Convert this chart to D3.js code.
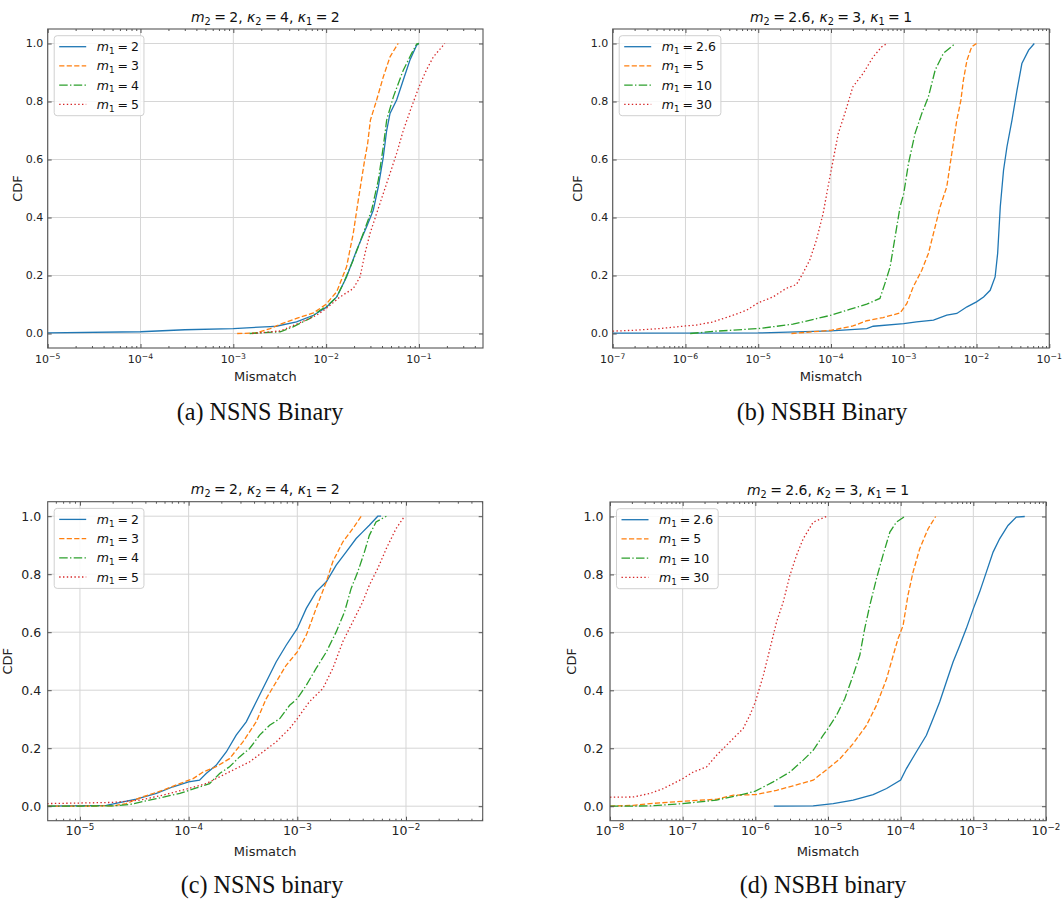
<!DOCTYPE html>
<html><head><meta charset="utf-8">
<script src="https://cdn.jsdelivr.net/npm/d3@7"></script>
<style>
body{margin:0;background:#fff}
svg{display:block}
text{white-space:pre}
</style>
</head><body>
<svg id="chart" width="1063" height="901"></svg>
<script>
// ---------------- DATA ----------------
// Panel (a) NSNS Binary: [mismatch, CDF]
const aM1_2 = [[1e-5,0.002],[1e-4,0.006],[3e-4,0.013],[1e-3,0.017],[2.5e-3,0.024],[2.9e-3,0.025],[4.8e-3,0.04],[7.3e-3,0.063],[1e-2,0.09],[1.3e-2,0.126],[1.66e-2,0.195],[2.13e-2,0.287],[2.73e-2,0.368],[3.22e-2,0.425],[3.65e-2,0.506],[4.13e-2,0.609],[4.49e-2,0.70],[4.88e-2,0.759],[5.75e-2,0.805],[6.78e-2,0.874],[8.0e-2,0.943],[9.44e-2,0.994],[0.1,1.0]];
const aM1_3 = [[1.1e-3,0],[1.78e-3,0.002],[2.5e-3,0.017],[3.2e-3,0.032],[4.8e-3,0.052],[7.3e-3,0.071],[1e-2,0.101],[1.3e-2,0.144],[1.66e-2,0.23],[1.96e-2,0.345],[2.22e-2,0.46],[2.6e-2,0.598],[2.8e-2,0.655],[3.0e-2,0.736],[3.5e-2,0.805],[4.13e-2,0.885],[4.88e-2,0.954],[5.9e-2,0.998],[6.0e-2,1.0]];
const aM1_4 = [[1.5e-3,0],[3.2e-3,0.006],[4.4e-3,0.023],[6.7e-3,0.052],[8.6e-3,0.08],[1e-2,0.092],[1.3e-2,0.126],[1.53e-2,0.172],[1.96e-2,0.253],[2.51e-2,0.345],[3.09e-2,0.425],[3.65e-2,0.529],[4.13e-2,0.644],[4.49e-2,0.736],[5.3e-2,0.816],[6.78e-2,0.908],[8.34e-2,0.966],[9.44e-2,0.998],[0.1,1.0]];
const aM1_5 = [[1.6e-3,0],[3.2e-3,0.009],[4.8e-3,0.032],[7.9e-3,0.063],[1e-2,0.086],[1.41e-2,0.126],[1.96e-2,0.155],[2.32e-2,0.195],[2.62e-2,0.276],[2.97e-2,0.345],[3.5e-2,0.414],[4.13e-2,0.483],[4.88e-2,0.552],[5.75e-2,0.621],[6.78e-2,0.70],[8.34e-2,0.782],[0.1,0.85],[0.12,0.908],[0.143,0.954],[0.19,1.0]];

// Panel (b) NSBH Binary
const bM1_26 = [[1e-7,0.001],[1e-5,0.002],[1e-4,0.009],[3.1e-4,0.017],[3.8e-4,0.025],[1e-3,0.034],[1.5e-3,0.04],[2.56e-3,0.046],[3.9e-3,0.063],[5.36e-3,0.069],[7.4e-3,0.092],[1e-2,0.109],[1.25e-2,0.126],[1.54e-2,0.149],[1.8e-2,0.195],[1.95e-2,0.276],[2.12e-2,0.437],[2.35e-2,0.563],[2.62e-2,0.644],[3.07e-2,0.736],[3.6e-2,0.839],[4.2e-2,0.931],[5.2e-2,0.977],[6.22e-2,1.0]];
const bM1_5 = [[2.86e-5,0],[1e-4,0.011],[2.0e-4,0.026],[3.1e-4,0.044],[5.2e-4,0.055],[8.9e-4,0.071],[1.1e-3,0.103],[1.35e-3,0.161],[1.77e-3,0.218],[2.18e-3,0.276],[2.7e-3,0.368],[3.16e-3,0.437],[3.9e-3,0.506],[4.57e-3,0.621],[5.36e-3,0.736],[6.1e-3,0.805],[6.6e-3,0.874],[7.4e-3,0.943],[8.6e-3,0.989],[1e-2,1.0]];
const bM1_10 = [[1.16e-6,0],[2.65e-6,0.008],[1e-5,0.017],[3e-5,0.032],[1e-4,0.063],[1.8e-4,0.083],[3.1e-4,0.101],[4.7e-4,0.121],[5.5e-4,0.172],[6.5e-4,0.23],[7.6e-4,0.333],[8.9e-4,0.437],[1e-3,0.483],[1.16e-3,0.586],[1.43e-3,0.69],[1.77e-3,0.759],[2.18e-3,0.816],[2.7e-3,0.908],[3.5e-3,0.966],[5.1e-3,1.0]];
const bM1_30 = [[1e-7,0.008],[1.88e-7,0.011],[4.4e-7,0.017],[1e-6,0.026],[1.4e-6,0.029],[2.4e-6,0.04],[4.5e-6,0.063],[6.9e-6,0.08],[1e-5,0.106],[1.6e-5,0.126],[2.4e-5,0.155],[3.35e-5,0.169],[4.1e-5,0.207],[5.1e-5,0.253],[6.3e-5,0.322],[7.8e-5,0.414],[9.1e-5,0.506],[1.07e-4,0.598],[1.26e-4,0.69],[1.55e-4,0.759],[2.0e-4,0.851],[2.77e-4,0.897],[3.8e-4,0.954],[5.0e-4,0.989],[5.9e-4,1.0]];

// Panel (c) NSNS binary
const cM1_2 = [[5e-6,0],[1.75e-5,0.003],[2.49e-5,0.015],[3.3e-5,0.024],[5.05e-5,0.044],[7.2e-5,0.067],[1e-4,0.084],[1.26e-4,0.09],[1.45e-4,0.113],[1.79e-4,0.141],[2.22e-4,0.187],[2.74e-4,0.245],[3.39e-4,0.291],[4.19e-4,0.36],[5.18e-4,0.429],[6.4e-4,0.498],[7.9e-4,0.555],[1e-3,0.613],[1.21e-3,0.682],[1.49e-3,0.739],[1.85e-3,0.774],[2.28e-3,0.831],[2.82e-3,0.877],[3.48e-3,0.923],[4.0e-3,0.946],[4.6e-3,0.969],[5.5e-3,1.0],[5.9e-3,1.0]];
const cM1_3 = [[5e-6,0],[2e-5,0.001],[2.67e-5,0.009],[3.55e-5,0.029],[5.8e-5,0.055],[8.3e-5,0.078],[1.1e-4,0.095],[1.36e-4,0.118],[1.79e-4,0.136],[2.38e-4,0.164],[3.16e-4,0.222],[4.19e-4,0.291],[5.18e-4,0.371],[6.4e-4,0.429],[7.9e-4,0.486],[1e-3,0.532],[1.21e-3,0.59],[1.49e-3,0.682],[1.85e-3,0.774],[2.12e-3,0.843],[2.62e-3,0.911],[3.24e-3,0.957],[3.87e-3,1.0]];
const cM1_4 = [[5e-6,0],[2e-5,0.001],[2.87e-5,0.006],[5.05e-5,0.026],[8.3e-5,0.044],[1.18e-4,0.063],[1.56e-4,0.078],[1.93e-4,0.113],[2.38e-4,0.136],[2.94e-4,0.17],[3.64e-4,0.199],[4.5e-4,0.245],[5.56e-4,0.279],[6.9e-4,0.302],[8.5e-4,0.348],[1e-3,0.371],[1.21e-3,0.417],[1.49e-3,0.475],[1.85e-3,0.532],[2.28e-3,0.601],[2.72e-3,0.67],[3.13e-3,0.751],[3.6e-3,0.808],[4.15e-3,0.877],[4.6e-3,0.934],[5.3e-3,0.98],[6.6e-3,1.0]];
const cM1_5 = [[5e-6,0.009],[2e-5,0.013],[3.55e-5,0.021],[5.8e-5,0.038],[1e-4,0.061],[1.45e-4,0.078],[2.07e-4,0.107],[2.74e-4,0.13],[3.64e-4,0.153],[4.82e-4,0.187],[6.4e-4,0.222],[8.5e-4,0.268],[1e-3,0.302],[1.29e-3,0.36],[1.72e-3,0.406],[2.12e-3,0.475],[2.62e-3,0.567],[3.24e-3,0.636],[4.0e-3,0.705],[4.6e-3,0.762],[5.5e-3,0.82],[6.6e-3,0.889],[8.1e-3,0.957],[9.7e-3,1.0]];

// Panel (d) NSBH binary
const dM1_26 = [[1.8e-6,0],[6.25e-6,0.001],[1.18e-5,0.009],[2.22e-5,0.021],[4.18e-5,0.04],[6.4e-5,0.061],[1e-4,0.09],[1.2e-4,0.13],[1.64e-4,0.187],[2.26e-4,0.245],[2.79e-4,0.302],[3.44e-4,0.36],[4.25e-4,0.429],[5.26e-4,0.498],[6.5e-4,0.555],[8.0e-4,0.613],[1e-3,0.682],[1.22e-3,0.739],[1.51e-3,0.808],[1.87e-3,0.877],[2.3e-3,0.923],[3.0e-3,0.969],[3.9e-3,0.998],[5.1e-3,1.0]];
const dM1_5 = [[1e-8,0],[2.1e-8,0.003],[3.56e-8,0.009],[1e-7,0.017],[2.93e-7,0.024],[5e-7,0.038],[1e-6,0.04],[1.96e-6,0.055],[3.3e-6,0.07],[6.25e-6,0.09],[1e-5,0.13],[1.46e-5,0.164],[2.22e-5,0.216],[3.38e-5,0.279],[4.64e-5,0.348],[6.4e-5,0.44],[7.9e-5,0.521],[9.2e-5,0.578],[1.08e-4,0.624],[1.26e-4,0.728],[1.48e-4,0.808],[1.83e-4,0.889],[2.38e-4,0.957],[3.03e-4,1.0]];
const dM1_10 = [[1e-8,0],[3.56e-8,0.001],[1e-7,0.009],[2.93e-7,0.021],[6.1e-7,0.038],[1e-6,0.052],[1.76e-6,0.084],[2.99e-6,0.118],[4.56e-6,0.159],[6.25e-6,0.193],[8.6e-6,0.245],[1e-5,0.268],[1.31e-5,0.314],[1.7e-5,0.371],[2.22e-5,0.452],[2.74e-5,0.521],[3.2e-5,0.613],[3.76e-5,0.693],[4.64e-5,0.785],[5.7e-5,0.866],[7.1e-5,0.946],[8.7e-5,0.98],[1.14e-4,1.0]];
const dM1_30 = [[1e-8,0.031],[2.1e-8,0.032],[3.56e-8,0.044],[5.4e-8,0.061],[7.4e-8,0.078],[1e-7,0.095],[1.4e-7,0.118],[2.14e-7,0.136],[2.93e-7,0.176],[4.0e-7,0.21],[5.5e-7,0.245],[6.8e-7,0.268],[8.4e-7,0.314],[1e-6,0.36],[1.29e-6,0.452],[1.59e-6,0.544],[1.96e-6,0.636],[2.42e-6,0.705],[2.99e-6,0.797],[3.69e-6,0.866],[4.56e-6,0.923],[6.25e-6,0.98],[9.5e-6,1.0]];

// Text
const titlesNSNS = "m_2 = 2, κ_2 = 4, κ_1 = 2";
const titlesNSBH = "m_2 = 2.6, κ_2 = 3, κ_1 = 1";
const legendNSNS = ["m_1 = 2","m_1 = 3","m_1 = 4","m_1 = 5"];
const legendNSBH = ["m_1 = 2.6","m_1 = 5","m_1 = 10","m_1 = 30"];
const captions = ["(a) NSNS Binary","(b) NSBH Binary","(c) NSNS binary","(d) NSBH binary"];
const yTicks = [0,0.2,0.4,0.6,0.8,1.0];
const xTickExpA = [-5,-4,-3,-2,-1];
const xTickExpB = [-7,-6,-5,-4,-3,-2,-1];
const xTickExpC = [-5,-4,-3,-2];
const xTickExpD = [-8,-7,-6,-5,-4,-3,-2];
const xLabel = "Mismatch";
const yLabel = "CDF";

// ---------------- STYLE / LAYOUT ----------------
const colors = ["#1f77b4","#ff7f0e","#2ca02c","#d62728"];
const dashes = [null,"5.2,2.3","8.5,2.3,1.4,2.3","1.4,2.4"];
const FONT = "'DejaVu Sans', sans-serif";

const panels = [
  {box:[47.7,29,483,348], xd:[1e-5,0.49], exps:xTickExpA, title:titlesNSNS, legend:legendNSNS,
   series:[aM1_2,aM1_3,aM1_4,aM1_5], caption:captions[0], capX:260, capY:420, tfs:11, ypad:4.5, cdfOff:-30, xlOff:15.3},
  {box:[612.7,29,1049.3,348], xd:[1e-7,1e-1], exps:xTickExpB, title:titlesNSBH, legend:legendNSBH,
   series:[bM1_26,bM1_5,bM1_10,bM1_30], caption:captions[1], capX:822, capY:420, tfs:11, ypad:4.5, cdfOff:-35, xlOff:15.3},
  {box:[47.7,501.7,482.7,820.7], xd:[5.05e-6,5.08e-2], exps:xTickExpC, title:titlesNSNS, legend:legendNSNS,
   series:[cM1_2,cM1_3,cM1_4,cM1_5], caption:captions[2], capX:262, capY:893, tfs:12.5, ypad:6.5, cdfOff:-40, xlOff:14.5},
  {box:[610,502,1046,820.7], xd:[1e-8,1e-2], exps:xTickExpD, title:titlesNSBH, legend:legendNSBH,
   series:[dM1_26,dM1_5,dM1_10,dM1_30], caption:captions[3], capX:823, capY:893, tfs:12.5, ypad:6.5, cdfOff:-39, xlOff:14.5}
];

const svg = d3.select("#chart");

// render simple mathtext: letters italic, _x subscript, " = " relation spacing
function mathText(textSel, str, fs){
  const pieces = [];
  for(let i=0;i<str.length;i++){
    const c = str[i];
    if(c==='_'){ pieces.push({t:str[i+1], sub:true}); i++; }
    else if(str.substr(i,3)===' = '){ pieces.push({t:'=', rel:true}); i+=2; }
    else if(/[a-zκ]/.test(c)) pieces.push({t:c, it:true});
    else {
      const last = pieces[pieces.length-1];
      if(last && last.plain) last.t += c; else pieces.push({t:c, plain:true});
    }
  }
  let off = 0, pendingGap = 0;
  pieces.forEach(p=>{
    const target = p.sub ? fs*0.22 : 0;
    const ts = textSel.append("tspan").text(p.t);
    if(p.it) ts.attr("font-style","italic");
    if(p.sub) ts.attr("font-size", fs*0.7);
    let dx = pendingGap;
    if(p.rel){ dx += fs*0.24; pendingGap = fs*0.24; } else pendingGap = 0;
    if(dx) ts.attr("dx", dx);
    if(target-off) ts.attr("dy", target-off);
    off = target;
  });
}

function pow10Label(textSel, e, fs){
  textSel.append("tspan").text("10");
  textSel.append("tspan").attr("font-size", fs*0.7).attr("dy", -fs*0.42).text("\u2212"+Math.abs(e));
}

panels.forEach((p,pi)=>{
  const [x0,y0,x1,y1] = p.box;
  const W = x1-x0, H = y1-y0;
  const g = svg.append("g").attr("transform",`translate(${x0},${y0})`);
  const x = d3.scaleLog().domain(p.xd).range([0,W]);
  const y = d3.scaleLinear().domain([-0.05,1.05]).range([H,0]);
  const majors = p.exps.map(e=>Math.pow(10,e)).filter(v=>v>=p.xd[0]*0.999 && v<=p.xd[1]*1.001);
  const minors = [];
  for(let e=Math.floor(Math.log10(p.xd[0])); e<=Math.ceil(Math.log10(p.xd[1])); e++){
    for(let m=2;m<=9;m++){ const v=m*Math.pow(10,e); if(v>p.xd[0] && v<p.xd[1]) minors.push(v); }
  }

  // grid
  const grid = g.append("g").attr("stroke","#d6d6d6").attr("stroke-width",1);
  grid.selectAll(".gx").data(majors).join("line").attr("x1",d=>x(d)).attr("x2",d=>x(d)).attr("y1",0).attr("y2",H);
  grid.selectAll(".gy").data(yTicks).join("line").attr("y1",d=>y(d)).attr("y2",d=>y(d)).attr("x1",0).attr("x2",W);

  // curves
  const line = d3.line().x(d=>x(d[0])).y(d=>y(d[1]));
  const cg = g.append("g");
  p.series.forEach((s,si)=>{
    cg.append("path").datum(s).attr("d",line).attr("fill","none")
      .attr("stroke",colors[si]).attr("stroke-width",1.3)
      .attr("stroke-dasharray",dashes[si]);
  });

  // axes (ticks pointing inward on all four sides)
  const axCol = "#555";
  const styleAxis = a=>{ a.select(".domain").remove(); a.selectAll("line").attr("stroke",axCol); a.selectAll("text").remove(); };
  g.append("g").attr("transform",`translate(0,${H})`).call(d3.axisBottom(x).tickValues(majors).tickSize(-4)).call(styleAxis);
  g.append("g").attr("transform",`translate(0,${H})`).call(d3.axisBottom(x).tickValues(minors).tickSize(-2)).call(styleAxis);
  g.append("g").call(d3.axisTop(x).tickValues(majors).tickSize(-4)).call(styleAxis);
  g.append("g").call(d3.axisTop(x).tickValues(minors).tickSize(-2)).call(styleAxis);
  g.append("g").call(d3.axisLeft(y).tickValues(yTicks).tickSize(-4)).call(styleAxis);
  g.append("g").attr("transform",`translate(${W},0)`).call(d3.axisRight(y).tickValues(yTicks).tickSize(-4)).call(styleAxis);

  // frame
  g.append("rect").attr("width",W).attr("height",H).attr("fill","none").attr("stroke",axCol).attr("stroke-width",1.1);

  // x tick labels
  const xl = g.append("g").attr("font-family",FONT).attr("font-size",p.tfs).attr("fill","#222");
  majors.forEach(v=>{
    const t = xl.append("text").attr("x",x(v)).attr("y",H+p.xlOff).attr("text-anchor","middle");
    pow10Label(t, Math.round(Math.log10(v)), p.tfs);
  });
  // y tick labels
  const yl = g.append("g").attr("font-family",FONT).attr("font-size",p.tfs).attr("fill","#222");
  yTicks.forEach(v=>{
    yl.append("text").attr("x",-p.ypad).attr("y",y(v)).attr("dy","0.36em").attr("text-anchor","end").text(d3.format(".1f")(v));
  });

  // axis labels
  g.append("text").attr("x",W/2).attr("y",H+ (pi<2?33:35.3)).attr("text-anchor","middle")
    .attr("font-family",FONT).attr("font-size",13).attr("fill","#222").text(xLabel);
  g.append("text").attr("transform",`translate(${p.cdfOff},${H/2}) rotate(-90)`).attr("dy","0.36em")
    .attr("text-anchor","middle").attr("font-family",FONT).attr("font-size",13).attr("fill","#222").text(yLabel);

  // title
  const tt = g.append("text").attr("x",W/2).attr("y",-7.5).attr("text-anchor","middle")
    .attr("font-family",FONT).attr("font-size",14).attr("fill","#111");
  mathText(tt, p.title, 14);

  // legend
  const lg = g.append("g").attr("transform","translate(6.5,6.7)");
  const box = lg.append("rect").attr("rx",3).attr("fill","#fff").attr("fill-opacity",0.85)
    .attr("stroke","#d0d0d0").attr("stroke-width",1).attr("height",80);
  let maxW = 0;
  p.legend.forEach((lab,li)=>{
    const yy = 11 + li*19.2;
    lg.append("line").attr("x1",5).attr("x2",32).attr("y1",yy).attr("y2",yy)
      .attr("stroke",colors[li]).attr("stroke-width",1.3).attr("stroke-dasharray",dashes[li]);
    const t = lg.append("text").attr("x",42.5).attr("y",yy+4.6).attr("font-family",FONT).attr("font-size",12.5).attr("fill","#111");
    mathText(t, lab, 12.5);
    maxW = Math.max(maxW, t.node().getBBox().width);
  });
  box.attr("width",42.5+maxW+5);

  // caption
  svg.append("text").attr("x",p.capX).attr("y",p.capY).attr("text-anchor","middle")
    .attr("font-family","'Liberation Serif', 'Times New Roman', serif").attr("font-size",24.2).attr("fill","#111")
    .text(p.caption);
});
</script>
</body></html>
